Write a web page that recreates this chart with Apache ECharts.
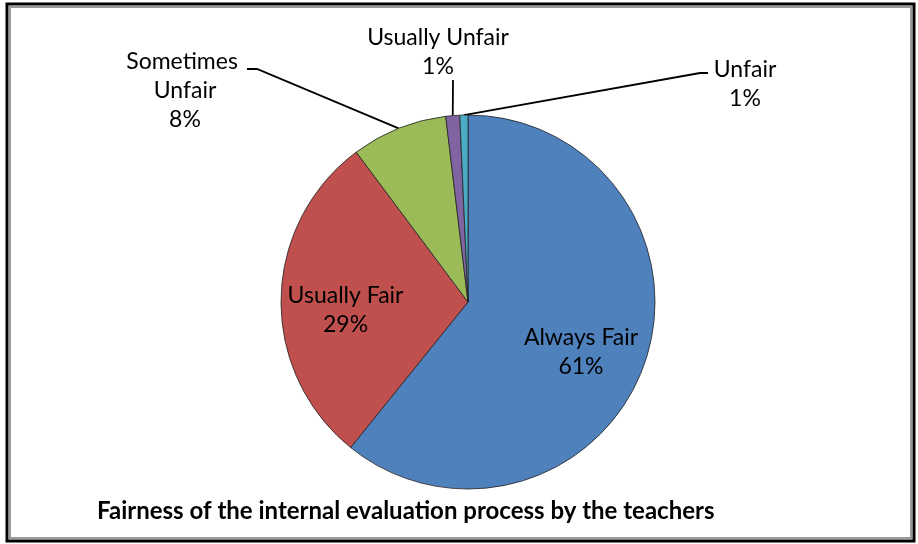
<!DOCTYPE html>
<html>
<head>
<meta charset="utf-8">
<script src="https://cdn.jsdelivr.net/npm/echarts@6/dist/echarts.min.js"></script>
<style>
html,body{margin:0;padding:0;background:#fff;}
#chart{width:918px;height:544px;}
</style>
</head>
<body>
<div id="chart"></div>
<script>
const categories = ['Always Fair', 'Usually Fair', 'Sometimes Unfair', 'Usually Unfair', 'Unfair'];
const values = [60.8, 29.0, 8.3, 1.2, 0.7];
const colors = ['#4F81BD', '#C0504D', '#9BBB59', '#8064A2', '#4BACC6'];
const titleText = 'Fairness of the internal evaluation process by the teachers';

const FONT = 'Lato';
const insideIdx = [0, 1];
// label placement for the pie labels (layout only)
const insideOffsets = {0: [22, 18], 1: [-26, 10]};
const outsideAnchors = {
  2: {x: 185, y: 91, line: [[257, 69], [247, 69]]},
  3: {x: 438, y: 52, line: [[453, 80]]},
  4: {x: 745, y: 84, line: [[700, 73], [708, 73]]}
};

const data = categories.map((name, i) => {
  const inside = insideIdx.indexOf(i) >= 0;
  const item = {
    name: name,
    value: values[i],
    itemStyle: {color: colors[i]},
    label: inside
      ? {position: 'inside', offset: insideOffsets[i]}
      : {position: 'outside'},
    labelLine: {show: !inside}
  };
  if (i === 2) {
    item.label.width = 130;
    item.label.overflow = 'break';
  }
  return item;
});

const chart = echarts.init(document.getElementById('chart'), null, {renderer: 'canvas'});
chart.setOption({
  animation: false,
  backgroundColor: '#ffffff',
  title: {
    text: titleText,
    left: 92,
    top: 494,
    textStyle: {fontFamily: FONT, fontWeight: 'bold', fontSize: 24, color: '#000'}
  },
  graphic: [
    {type: 'rect', shape: {x: 7, y: 4, width: 907, height: 537}, style: {fill: 'none', stroke: '#000', lineWidth: 3}},
    {type: 'rect', shape: {x: 10, y: 7, width: 901, height: 531}, style: {fill: 'none', stroke: '#9a9a9a', lineWidth: 2}}
  ],
  series: [{
    type: 'pie',
    center: [468, 302],
    radius: 187,
    startAngle: 90,
    clockwise: true,
    avoidLabelOverlap: false,
    itemStyle: {borderColor: '#222', borderWidth: 0.8},
    label: {
      fontFamily: FONT,
      fontSize: 23,
      lineHeight: 29,
      color: '#000',
      align: 'center',
      formatter: p => p.name + '\n' + Math.round(p.percent) + '%'
    },
    labelLine: {lineStyle: {color: '#000', width: 1.8}, length: 20, length2: 10},
    labelLayout: function (p) {
      const a = outsideAnchors[p.dataIndex];
      if (!a || !p.labelLinePoints) return {};
      const start = p.labelLinePoints[0];
      return {
        x: a.x,
        y: a.y,
        align: 'center',
        verticalAlign: 'middle',
        labelLinePoints: [start].concat(a.line)
      };
    },
    data: data
  }]
});
</script>
</body>
</html>
